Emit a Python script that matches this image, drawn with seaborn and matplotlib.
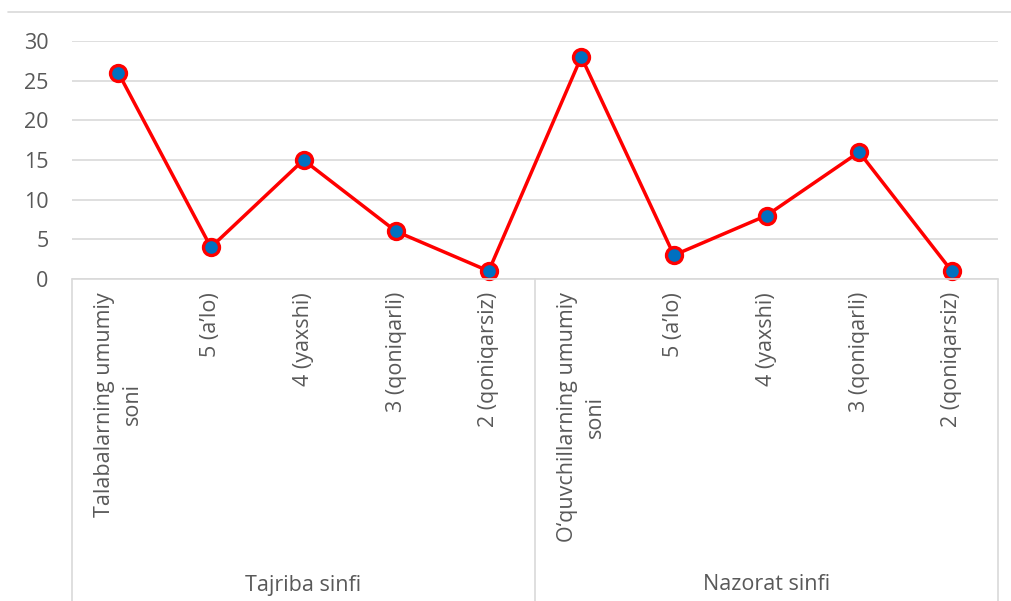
import matplotlib
matplotlib.use("Agg")
import matplotlib.pyplot as plt
import matplotlib.transforms as mtransforms
import seaborn as sns
import numpy as np
import pandas as pd

groups = ["Tajriba sinfi", "Nazorat sinfi"]
categories = [
    "Talabalarning umumiy\nsoni", "5 (a’lo)", "4 (yaxshi)", "3 (qoniqarli)", "2 (qoniqarsiz)",
    "O‘quvchillarning umumiy\nsoni", "5 (a’lo)", "4 (yaxshi)", "3 (qoniqarli)", "2 (qoniqarsiz)",
]
values = [26, 4, 15, 6, 1, 28, 3, 8, 16, 1]
y_ticks = [0, 5, 10, 15, 20, 25, 30]

sns.set_theme(style="white")
plt.rcParams["font.family"] = ["Open Sans", "DejaVu Sans"]

W, H = 1011, 601
FS = 15.5
TXT = "#595959"
fig = plt.figure(figsize=(W / 100, H / 100), dpi=100)
ax = fig.add_axes([72 / W, 1 - 279 / H, (998 - 72) / W, (279 - 41) / H])

df = pd.DataFrame({"pos": np.arange(len(values)), "val": values})
sns.lineplot(data=df, x="pos", y="val", ax=ax, color="#FF0000", linewidth=2.5,
             marker="o", markersize=11.5, markerfacecolor="#0070C0",
             markeredgecolor="#FF0000", markeredgewidth=2.4, zorder=5, clip_on=False)

ax.set_xlim(-0.5, len(values) - 0.5)
ax.set_ylim(0, 30)
ax.set_yticks(y_ticks)
ax.set_yticklabels([str(t) for t in y_ticks], fontsize=FS, color=TXT)
ax.tick_params(axis="y", length=0, pad=17)
ax.set_xticks([])
ax.set_xlabel("")
ax.set_ylabel("")
for s in ax.spines.values():
    s.set_visible(False)
ax.grid(axis="y", color="#D9D9D9", linewidth=1.2)
ax.set_axisbelow(True)

grid_col = "#D9D9D9"
fig.add_artist(plt.Line2D([72 / W, 998 / W], [1 - 279 / H, 1 - 279 / H], color=grid_col, lw=1.2))
fig.add_artist(plt.Line2D([8 / W, 1.0], [1 - 11.5 / H, 1 - 11.5 / H], color=grid_col, lw=1.2))
for xp in [72, 535, 998]:
    fig.add_artist(plt.Line2D([xp / W, xp / W], [1 - 279 / H, 0], color=grid_col, lw=1.2))

trans = ax.get_xaxis_transform()
offset = mtransforms.ScaledTranslation(0, -13 / 100, fig.dpi_scale_trans)
for i, lab in enumerate(categories):
    ax.text(i, 0, lab, transform=trans + offset, rotation=90, ha="center", va="top",
            multialignment="center", linespacing=1.45, fontsize=FS, color=TXT, clip_on=False)

n_per = len(categories) // len(groups)
gtrans = mtransforms.blended_transform_factory(ax.transData, fig.transFigure)
for g, name in enumerate(groups):
    xc = g * n_per + (n_per - 1) / 2
    ax.text(xc, 1 - 585 / H, name, transform=gtrans,
            ha="center", va="center", fontsize=FS, color=TXT, clip_on=False)

fig.savefig("out.png", dpi=100, facecolor="white")
